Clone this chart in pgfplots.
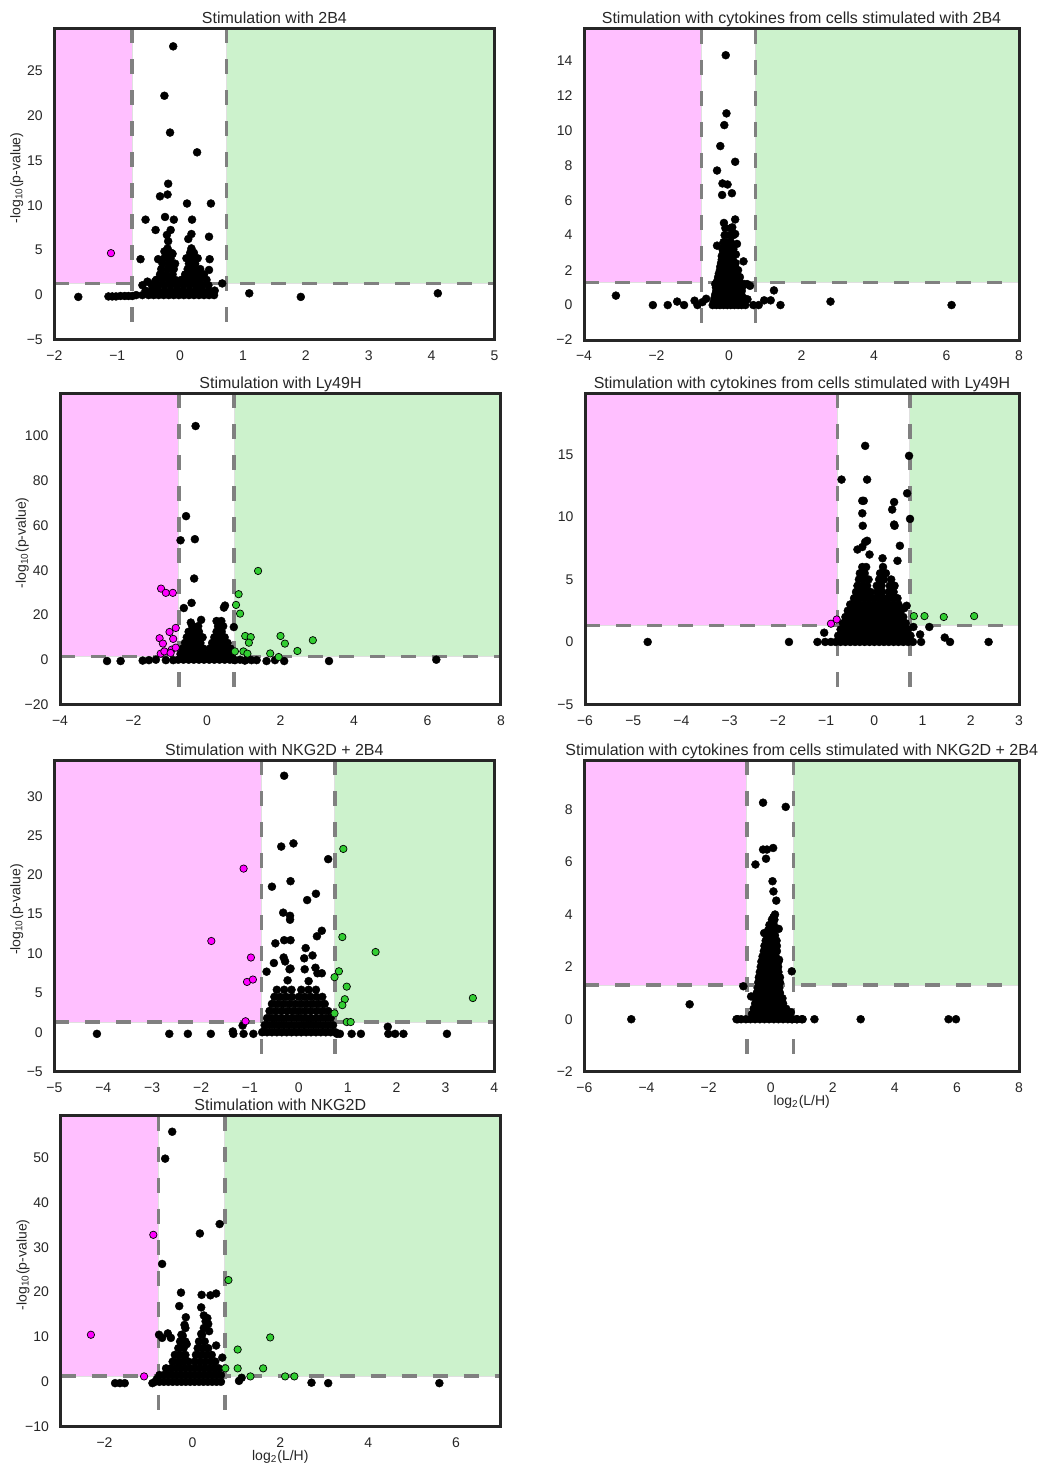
\documentclass[border=0pt]{standalone}
\usepackage{fontspec}
\setmainfont{Liberation Sans}
\usepackage{pgfplots}
\pgfplotsset{compat=1.18}
\definecolor{pinkfill}{RGB}{255,191,255}
\definecolor{greenfill}{RGB}{204,242,204}
\definecolor{limeg}{RGB}{50,205,50}
\definecolor{magc}{RGB}{255,0,255}
\definecolor{framec}{RGB}{38,38,38}
\definecolor{dashc}{RGB}{128,128,128}
\newcommand{\regions}[4]{%
  \fill[pinkfill, draw=black!12, line width=0.4pt] (axis cs:#1,1.3) rectangle (axis cs:-0.766,#4);
  \fill[greenfill, draw=black!12, line width=0.4pt] (axis cs:0.737,1.3) rectangle (axis cs:#2,#4);
  \draw[dashc, line width=1.7pt, dash pattern=on 7.5pt off 8pt] (axis cs:#1,1.3) -- (axis cs:#2,1.3);
  \draw[dashc, line width=1.7pt, dash pattern=on 7.5pt off 8pt] (axis cs:-0.766,#4) -- (axis cs:-0.766,#3);
  \draw[dashc, line width=1.7pt, dash pattern=on 7.5pt off 8pt] (axis cs:0.737,#4) -- (axis cs:0.737,#3);
}
\pgfplotsset{
  volc/.style={
    scale only axis, anchor=north west, axis on top,
    axis line style={draw=framec, line width=1.5pt},
    major tick length=0pt, tick style={draw=none},
    ticklabel style={font=\fontsize{7}{8}\selectfont, text=framec},
    xticklabel style={yshift=-2pt},
    yticklabel style={xshift=-2.3pt},
    title style={font=\fontsize{8}{9.6}\selectfont, text=framec, at={(0.5,1)}, anchor=base, yshift=-3.5pt},
    ylabel style={font=\fontsize{7}{8}\selectfont, text=framec, at={(axis description cs:-0.07,0.52)}, anchor=south, inner sep=0pt},
    xlabel style={font=\fontsize{7}{8}\selectfont, text=framec, at={(axis description cs:0.5,0)}, anchor=north, inner sep=0pt, yshift=-11.5pt},
    clip=true,
  },
  blk/.style={only marks, mark=*, mark size=2pt, mark options={draw=black, fill=black, line width=0.2pt}},
  mag/.style={only marks, mark=*, mark size=1.85pt, mark options={draw=black, fill=magc, line width=0.35pt}},
  grn/.style={only marks, mark=*, mark size=1.85pt, mark options={draw=black, fill=limeg, line width=0.35pt}},
}
\begin{document}
\begin{tikzpicture}
\useasboundingbox (0,0) rectangle (524.5pt,-732.5pt);

% ---------- Panel 1 ----------
\begin{axis}[volc, at={(27.2pt,-14.2pt)}, width=220pt, height=155.8pt,
  xmin=-2, xmax=5, ymin=-5, ymax=29.7,
  xtick={-2,-1,0,1,2,3,4,5}, xticklabels={−2,−1,0,1,2,3,4,5},
  ytick={-5,0,5,10,15,20,25}, yticklabels={−5,0,5,10,15,20,25},
  title={Stimulation with 2B4}, ylabel={-log\textsubscript{10}(p-value)}]
\regions{-2}{5}{-5}{29.7}
\addplot[blk] coordinates {
(-0.11,27.7)(-0.25,22.2)(-0.16,18.1)(0.27,15.9)(-0.19,12.4)(-0.32,11.0)(-0.20,11.2)(0.11,10.2)(0.49,10.2)
(-0.55,8.4)(-0.24,8.7)(-0.10,8.4)(0.19,8.4)(-0.39,7.25)(-0.15,7.25)(-0.21,6.7)(-0.19,6.0)(0.18,6.8)(0.13,6.25)(0.46,6.5)
(-0.63,4.0)(0.47,4.0)(0.46,2.8)(-0.35,4.0)(-0.25,4.86)(-0.12,4.6)(0.18,5.0)(-0.60,1.1)(-0.52,1.5)(-0.40,1.5)(0.67,1.3)
(-1.62,-0.2)(-1.14,-0.15)(-1.08,-0.15)(-1.02,-0.15)(-0.95,-0.1)(-0.88,-0.1)(-0.82,-0.1)(-0.76,-0.1)(1.10,0.2)(1.92,-0.2)(4.10,0.2)
(-0.70,0)(-0.60,0)(-0.50,0)(-0.42,0)(-0.34,0)(-0.26,0)(-0.18,0)(-0.10,0)(-0.02,0)(0.06,0)(0.14,0)(0.22,0)(0.30,0)(0.38,0)(0.46,0)(0.54,0)
(-0.55,0.5)(-0.45,0.5)(-0.35,0.5)(-0.25,0.5)(-0.15,0.5)(-0.05,0.5)(0.05,0.5)(0.15,0.5)(0.25,0.5)(0.35,0.5)(0.45,0.5)(0.55,0.5)
(-0.45,1.1)(-0.35,1.1)(-0.25,1.1)(-0.15,1.1)(-0.05,1.1)(0.05,1.1)(0.15,1.1)(0.25,1.1)(0.35,1.1)(0.45,1.1)
(-0.38,1.7)(-0.28,1.7)(-0.18,1.7)(-0.08,1.7)(0.02,1.7)(0.12,1.7)(0.22,1.7)(0.32,1.7)(0.42,1.7)
(-0.32,2.3)(-0.22,2.3)(-0.12,2.3)(0.08,2.3)(0.18,2.3)(0.28,2.3)(0.38,2.3)
(-0.30,2.9)(-0.20,2.9)(-0.10,2.9)(0.12,2.9)(0.22,2.9)(0.32,2.9)
(-0.28,3.5)(-0.18,3.5)(-0.08,3.5)(0.14,3.5)(0.24,3.5)
(-0.25,4.1)(-0.15,4.1)(0.10,4.1)(0.20,4.1)(0.28,4.1)
(-0.22,4.7)(-0.14,4.7)(0.16,4.7)(0.22,4.7)
(-0.20,5.2)(0.18,5.2)
};
\addplot[mag] coordinates {(-1.10,4.67)};
\end{axis}

% ---------- Panel 2 ----------
\begin{axis}[volc, at={(292pt,-14.5pt)}, width=217.5pt, height=155.5pt,
  xmin=-4, xmax=8, ymin=-2, ymax=15.8,
  xtick={-4,-2,0,2,4,6,8}, xticklabels={−4,−2,0,2,4,6,8},
  ytick={-2,0,2,4,6,8,10,12,14}, yticklabels={−2,0,2,4,6,8,10,12,14},
  title={Stimulation with cytokines from cells stimulated with 2B4}]
\regions{-4}{8}{-2}{15.8}
\addplot[blk] coordinates {
(-0.09,14.3)(-0.07,10.97)(-0.13,10.3)(-0.24,9.1)(0.17,8.2)(-0.33,7.7)(-0.18,6.96)(-0.04,6.9)(-0.19,6.3)(0.08,6.4)
(0.17,4.9)(-0.14,4.7)(0.09,4.45)(0.17,4.07)(0.22,3.5)(-0.33,3.4)(0.19,2.9)(0.40,2.5)(1.24,0.84)
(-3.12,0.54)(-2.10,0)(-1.69,0)(-1.43,0.2)(-1.24,0)(-0.95,0.25)(-0.87,0)(-0.73,0.17)(-0.63,0.36)(2.80,0.2)(6.14,0)
(0.51,0.33)(0.67,0)(0.82,0)(0.97,0.27)(1.15,0.27)(1.42,0)(0.58,1.1)
(-0.45,0)(-0.35,0)(-0.25,0)(-0.15,0)(-0.05,0)(0.05,0)(0.15,0)(0.25,0)(0.35,0)(0.45,0)
(-0.42,0.2)(-0.30,0.2)(-0.18,0.2)(-0.06,0.2)(0.06,0.2)(0.18,0.2)(0.30,0.2)(0.42,0.2)
(-0.40,0.4)(-0.30,0.4)(-0.20,0.4)(-0.10,0.4)(0.0,0.4)(0.10,0.4)(0.20,0.4)(0.30,0.4)(0.40,0.4)
(-0.38,0.6)(-0.26,0.6)(-0.14,0.6)(-0.02,0.6)(0.10,0.6)(0.22,0.6)(0.34,0.6)
(-0.35,0.8)(-0.25,0.8)(-0.15,0.8)(-0.05,0.8)(0.05,0.8)(0.15,0.8)(0.25,0.8)(0.35,0.8)
(-0.36,1.0)(-0.24,1.0)(-0.12,1.0)(0.0,1.0)(0.12,1.0)(0.24,1.0)(0.36,1.0)
(-0.38,1.2)(-0.28,1.2)(-0.18,1.2)(-0.08,1.2)(0.02,1.2)(0.12,1.2)(0.22,1.2)(0.32,1.2)(0.42,1.2)(0.50,1.2)
(-0.32,1.4)(-0.22,1.4)(-0.12,1.4)(-0.02,1.4)(0.08,1.4)(0.18,1.4)(0.28,1.4)
(-0.30,1.6)(-0.20,1.6)(-0.10,1.6)(0.0,1.6)(0.10,1.6)(0.20,1.6)(0.30,1.6)
(-0.28,1.8)(-0.18,1.8)(-0.08,1.8)(0.02,1.8)(0.12,1.8)(0.22,1.8)
(-0.25,2.0)(-0.15,2.0)(-0.05,2.0)(0.05,2.0)(0.15,2.0)(0.25,2.0)
(-0.24,2.2)(-0.14,2.2)(-0.04,2.2)(0.06,2.2)(0.16,2.2)
(-0.22,2.4)(-0.12,2.4)(-0.02,2.4)(0.08,2.4)(0.18,2.4)
(-0.20,2.6)(-0.10,2.6)(0.0,2.6)(0.10,2.6)
(-0.20,2.8)(-0.10,2.8)(0.0,2.8)(0.10,2.8)
(-0.16,3.0)(-0.06,3.0)(0.04,3.0)
(-0.18,3.2)(-0.08,3.2)(0.02,3.2)(0.12,3.2)
(-0.12,3.4)(0.0,3.4)(0.10,3.4)
(-0.15,3.6)(-0.05,3.6)(0.05,3.6)
(-0.12,4.0)(0.02,4.0)(0.12,4.0)
(-0.10,4.4)(0.05,4.4)
};
\end{axis}

% ---------- Panel 3 ----------
\begin{axis}[volc, at={(30pt,-196.7pt)}, width=220.5pt, height=155.5pt,
  xmin=-4, xmax=8, ymin=-20, ymax=119.1,
  xtick={-4,-2,0,2,4,6,8}, xticklabels={−4,−2,0,2,4,6,8},
  ytick={-20,0,20,40,60,80,100}, yticklabels={−20,0,20,40,60,80,100},
  title={Stimulation with Ly49H}, ylabel={-log\textsubscript{10}(p-value)}]
\regions{-4}{8}{-20}{119.1}
\addplot[blk] coordinates {
(-0.31,104.5)(-0.57,64.2)(-0.72,53.4)(-0.33,53.9)(-0.35,36.3)(-0.42,25.4)(-0.63,23.1)(0.46,23.3)(0.49,24.2)
(-0.16,17.8)(-0.44,16.6)(0.26,17.3)(0.39,17.3)(0.73,14.6)
(-2.72,-0.6)(-2.35,-0.6)(-1.75,-0.4)(-1.58,-0.2)(-1.39,0)(-1.12,-0.2)(-0.92,-0.2)(3.32,-0.6)(6.24,0)
(1.35,-0.2)(1.62,-0.6)(1.85,-0.2)(2.10,-0.6)(0.76,-0.2)(1.03,-0.4)(1.21,-0.2)(0.90,0)(1.10,0.2)
(-0.78,0)(-0.64,0)(-0.50,0)(-0.36,0)(-0.22,0)(-0.08,0)(0.06,0)(0.20,0)(0.34,0)(0.48,0)(0.62,0)(0.72,0)
(-0.72,2.5)(-0.58,2.5)(-0.44,2.5)(-0.30,2.5)(-0.16,2.5)(-0.02,2.5)(0.12,2.5)(0.26,2.5)(0.40,2.5)(0.54,2.5)(0.68,2.5)
(-0.66,5)(-0.52,5)(-0.38,5)(-0.24,5)(-0.10,5)(0.08,5)(0.22,5)(0.36,5)(0.50,5)(0.64,5)
(-0.60,7.5)(-0.46,7.5)(-0.32,7.5)(-0.18,7.5)(0.14,7.5)(0.28,7.5)(0.42,7.5)(0.56,7.5)
(-0.55,10)(-0.40,10)(-0.26,10)(-0.12,10)(0.20,10)(0.34,10)(0.48,10)
(-0.50,12.5)(-0.36,12.5)(-0.22,12.5)(0.26,12.5)(0.40,12.5)
(-0.40,15)(-0.24,15)(0.30,15)(0.44,15)
};
\addplot[mag] coordinates {
(-1.25,31.8)(-1.12,29.9)(-0.93,29.9)(-0.85,14.2)(-1.02,12.4)(-1.29,9.6)(-0.92,9.3)(-1.20,7.2)
(-0.96,4.5)(-1.26,2.7)(-1.16,3.7)(-0.99,3.0)(-0.85,5.4)};
\addplot[grn] coordinates {
(1.39,39.7)(0.86,29.3)(0.79,24.5)(0.90,20.6)(1.04,10.6)(1.19,10.1)(1.14,7.6)(2.0,10.6)(2.12,7.2)
(2.88,8.7)(2.46,3.9)(1.72,2.8)(1.95,1.2)(0.99,3.7)(1.10,2.7)(0.76,3.7)};
\end{axis}

% ---------- Panel 4 ----------
\begin{axis}[volc, at={(292.5pt,-196.7pt)}, width=217pt, height=155.5pt,
  xmin=-6, xmax=3, ymin=-5, ymax=19.9,
  xtick={-6,-5,-4,-3,-2,-1,0,1,2,3}, xticklabels={−6,−5,−4,−3,−2,−1,0,1,2,3},
  ytick={-5,0,5,10,15}, yticklabels={−5,0,5,10,15},
  title={Stimulation with cytokines from cells stimulated with Ly49H}]
\regions{-6}{3}{-5}{19.9}
\addplot[blk] coordinates {
(-0.19,15.7)(0.72,14.9)(-0.68,13.0)(-0.15,13.0)(0.68,11.9)(-0.25,11.3)(-0.22,11.3)(0.41,11.2)(0.37,10.6)(0.74,9.85)
(-0.25,10.3)(-0.24,9.3)(0.41,9.4)(0.42,9.3)(-0.15,8.1)(-0.19,8.0)(-0.35,7.4)(-0.25,7.6)(-0.10,7.0)(0.53,7.7)(0.17,6.7)(0.48,6.5)
(0.67,2.9)(0.62,2.7)
(-4.70,0)(-1.77,0)(-1.18,0)(-1.04,0.74)(-1.02,0)(-0.90,0)(0.81,1.2)(0.95,0.6)(1.14,1.2)(1.46,0.35)(1.57,0)(2.37,0)(0.97,0)
(-0.80,0)(-0.70,0)(-0.60,0)(-0.50,0)(-0.40,0)(-0.30,0)(-0.20,0)(-0.10,0)(0.0,0)(0.10,0)(0.20,0)(0.30,0)(0.40,0)(0.50,0)(0.60,0)(0.70,0)(0.80,0)
(-0.75,0.5)(-0.65,0.5)(-0.55,0.5)(-0.45,0.5)(-0.35,0.5)(-0.25,0.5)(-0.15,0.5)(-0.05,0.5)(0.05,0.5)(0.15,0.5)(0.25,0.5)(0.35,0.5)(0.45,0.5)(0.55,0.5)(0.65,0.5)(0.75,0.5)
(-0.70,1.0)(-0.60,1.0)(-0.50,1.0)(-0.40,1.0)(-0.30,1.0)(-0.20,1.0)(-0.10,1.0)(0.0,1.0)(0.10,1.0)(0.20,1.0)(0.30,1.0)(0.40,1.0)(0.50,1.0)(0.60,1.0)(0.70,1.0)
(-0.65,1.5)(-0.55,1.5)(-0.45,1.5)(-0.35,1.5)(-0.25,1.5)(-0.15,1.5)(-0.05,1.5)(0.05,1.5)(0.15,1.5)(0.25,1.5)(0.35,1.5)(0.45,1.5)(0.55,1.5)(0.65,1.5)
(-0.60,2.0)(-0.50,2.0)(-0.40,2.0)(-0.30,2.0)(-0.20,2.0)(-0.10,2.0)(0.0,2.0)(0.10,2.0)(0.20,2.0)(0.30,2.0)(0.40,2.0)(0.50,2.0)(0.60,2.0)
(-0.55,2.5)(-0.45,2.5)(-0.35,2.5)(-0.25,2.5)(-0.15,2.5)(-0.05,2.5)(0.05,2.5)(0.15,2.5)(0.25,2.5)(0.35,2.5)(0.45,2.5)(0.55,2.5)
(-0.50,3.0)(-0.40,3.0)(-0.30,3.0)(-0.20,3.0)(-0.10,3.0)(0.0,3.0)(0.10,3.0)(0.20,3.0)(0.30,3.0)(0.40,3.0)(0.50,3.0)
(-0.42,3.5)(-0.32,3.5)(-0.22,3.5)(-0.12,3.5)(-0.02,3.5)(0.08,3.5)(0.18,3.5)(0.28,3.5)(0.38,3.5)(0.48,3.5)
(-0.38,4.0)(-0.28,4.0)(-0.18,4.0)(-0.08,4.0)(0.06,4.0)(0.16,4.0)(0.30,4.0)(0.40,4.0)
(-0.35,4.5)(-0.25,4.5)(-0.15,4.5)(0.05,4.5)(0.15,4.5)(0.32,4.5)(0.42,4.5)
(-0.32,5.0)(-0.22,5.0)(-0.12,5.0)(0.10,5.0)(0.20,5.0)(0.35,5.0)
(-0.30,5.5)(-0.20,5.5)(0.12,5.5)(0.24,5.5)
(-0.25,6.0)(-0.17,6.0)(0.18,6.0)
};
\addplot[mag] coordinates {(-0.90,1.46)(-0.78,1.8)};
\addplot[grn] coordinates {(0.82,2.07)(1.04,2.07)(1.44,2.0)(2.07,2.07)};
\end{axis}

% ---------- Panel 5 ----------
\begin{axis}[volc, at={(27.2pt,-380pt)}, width=220pt, height=155.8pt,
  xmin=-5, xmax=4, ymin=-5, ymax=34.6,
  xtick={-5,-4,-3,-2,-1,0,1,2,3,4}, xticklabels={−5,−4,−3,−2,−1,0,1,2,3,4},
  ytick={-5,0,5,10,15,20,25,30}, yticklabels={−5,0,5,10,15,20,25,30},
  title={Stimulation with NKG2D + 2B4}, ylabel={-log\textsubscript{10}(p-value)}]
\regions{-5}{4}{-5}{34.6}
\addplot[blk] coordinates {
(-0.30,32.6)(-0.11,24.0)(-0.36,23.6)(0.60,22.0)(-0.55,18.5)(-0.17,19.2)(0.35,17.6)(0.17,16.8)(-0.32,15.2)(-0.18,14.8)(-0.18,14.3)
(0.47,12.9)(0.37,12.2)(-0.48,11.3)(-0.30,11.7)(-0.17,11.7)(0.14,10.7)(0.28,9.76)(-0.31,9.5)(-0.28,9.0)(-0.51,8.8)
(0.11,9.4)(0.12,8.0)(0.34,8.2)(0.38,7.5)(-0.17,8.1)(-0.66,7.7)(-0.23,6.6)(0.47,7.5)(0.20,6.5)(-0.19,8.0)
(-4.13,-0.2)(-2.65,-0.2)(-2.27,-0.2)(-1.80,-0.2)(-1.35,0.1)(-1.34,-0.2)(-1.13,-0.2)(-0.93,-0.2)(-0.72,0.1)(-1.15,0.85)
(1.08,-0.2)(1.27,-0.2)(1.82,0.7)(1.83,-0.2)(1.97,-0.2)(2.14,-0.2)(3.03,-0.2)(0.78,-0.2)(0.84,-0.2)
(-0.75,0)(-0.65,0)(-0.55,0)(-0.45,0)(-0.35,0)(-0.25,0)(-0.15,0)(-0.05,0)(0.05,0)(0.15,0)(0.25,0)(0.35,0)(0.45,0)(0.55,0)(0.65,0)(0.75,0)
(-0.70,0.9)(-0.60,0.9)(-0.50,0.9)(-0.40,0.9)(-0.30,0.9)(-0.20,0.9)(-0.10,0.9)(0.0,0.9)(0.10,0.9)(0.20,0.9)(0.30,0.9)(0.40,0.9)(0.50,0.9)(0.60,0.9)(0.70,0.9)
(-0.65,1.8)(-0.55,1.8)(-0.45,1.8)(-0.35,1.8)(-0.25,1.8)(-0.15,1.8)(-0.05,1.8)(0.05,1.8)(0.15,1.8)(0.25,1.8)(0.35,1.8)(0.45,1.8)(0.55,1.8)(0.65,1.8)
(-0.60,2.7)(-0.48,2.7)(-0.36,2.7)(-0.24,2.7)(-0.12,2.7)(0.0,2.7)(0.12,2.7)(0.24,2.7)(0.36,2.7)(0.48,2.7)(0.60,2.7)
(-0.55,3.6)(-0.43,3.6)(-0.31,3.6)(-0.19,3.6)(-0.07,3.6)(0.05,3.6)(0.17,3.6)(0.29,3.6)(0.41,3.6)(0.53,3.6)
(-0.50,4.5)(-0.38,4.5)(-0.26,4.5)(-0.14,4.5)(0.0,4.5)(0.12,4.5)(0.24,4.5)(0.36,4.5)(0.48,4.5)
(-0.45,5.4)(-0.30,5.4)(-0.15,5.4)(0.05,5.4)(0.20,5.4)(0.35,5.4)
};
\addplot[mag] coordinates {(-1.13,20.8)(-1.79,11.6)(-0.98,9.5)(-1.06,6.4)(-0.94,6.7)(-1.09,1.4)};
\addplot[grn] coordinates {(0.91,23.3)(0.89,12.1)(1.57,10.2)(0.82,7.75)(0.73,7.0)(0.98,5.8)(0.94,4.2)(0.89,3.45)(0.73,2.4)(0.98,1.3)(1.06,1.3)(3.56,4.35)};
\end{axis}

% ---------- Panel 6 ----------
\begin{axis}[volc, at={(292.2pt,-380pt)}, width=217.3pt, height=155.8pt,
  xmin=-6, xmax=8, ymin=-2, ymax=9.9,
  xtick={-6,-4,-2,0,2,4,6,8}, xticklabels={−6,−4,−2,0,2,4,6,8},
  ytick={-2,0,2,4,6,8}, yticklabels={−2,0,2,4,6,8},
  title={Stimulation with cytokines from cells stimulated with NKG2D + 2B4}, xlabel={log\textsubscript{2}(L/H)}]
\regions{-6}{8}{-2}{9.9}
\addplot[blk] coordinates {
(-0.245,8.27)(0.485,8.11)(-0.245,6.48)(-0.12,6.48)(0.08,6.54)(-0.15,6.13)(-0.49,5.91)(0.06,5.27)(0.09,4.88)(0.18,4.53)
(0.14,4.0)(0.09,3.9)(0.26,3.45)(-0.21,3.29)(-0.13,3.26)(0.19,3.0)(0.68,1.83)(0.27,2.27)(-0.88,1.26)(-0.63,0.87)
(-2.61,0.57)(-4.49,0)(-1.06,0)(0.68,0)(0.84,0)(1.03,0)(1.41,0)(2.90,0)(5.73,0)(5.97,0)(0.65,0.27)
(-1.1,0)(-0.95,0)(-0.8,0)(-0.65,0)(-0.5,0)(-0.35,0)(-0.2,0)(-0.05,0)(0.1,0)(0.25,0)(0.4,0)(0.55,0)(0.7,0)(0.85,0)(1.0,0)
(-0.6,0.2)(-0.45,0.2)(-0.3,0.2)(-0.15,0.2)(0.0,0.2)(0.15,0.2)(0.3,0.2)(0.45,0.2)(0.6,0.2)
(-0.55,0.4)(-0.4,0.4)(-0.25,0.4)(-0.1,0.4)(0.05,0.4)(0.2,0.4)(0.35,0.4)(0.5,0.4)
(-0.5,0.6)(-0.35,0.6)(-0.2,0.6)(-0.05,0.6)(0.1,0.6)(0.25,0.6)(0.4,0.6)
(-0.48,0.8)(-0.33,0.8)(-0.18,0.8)(-0.03,0.8)(0.12,0.8)(0.27,0.8)(0.38,0.8)
(-0.45,1.0)(-0.3,1.0)(-0.15,1.0)(0.0,1.0)(0.15,1.0)(0.3,1.0)
(-0.42,1.2)(-0.28,1.2)(-0.14,1.2)(0.0,1.2)(0.14,1.2)(0.28,1.2)
(-0.4,1.4)(-0.26,1.4)(-0.12,1.4)(0.02,1.4)(0.16,1.4)(0.3,1.4)
(-0.38,1.6)(-0.24,1.6)(-0.1,1.6)(0.04,1.6)(0.18,1.6)(0.3,1.6)
(-0.35,1.8)(-0.2,1.8)(-0.05,1.8)(0.1,1.8)(0.25,1.8)
(-0.32,2.0)(-0.18,2.0)(-0.04,2.0)(0.1,2.0)(0.24,2.0)
(-0.3,2.2)(-0.15,2.2)(0.0,2.2)(0.15,2.2)(0.25,2.2)
(-0.26,2.4)(-0.12,2.4)(0.02,2.4)(0.16,2.4)
(-0.22,2.6)(-0.08,2.6)(0.06,2.6)(0.2,2.6)
(-0.2,2.8)(-0.05,2.8)(0.1,2.8)(0.2,2.8)
(-0.16,3.0)(-0.02,3.0)(0.1,3.0)
(-0.12,3.2)(0.02,3.2)(0.14,3.2)
(-0.08,3.4)(0.06,3.4)
(-0.04,3.6)(0.1,3.6)
(0.04,3.8)(0.12,3.8)
};
\end{axis}

% ---------- Panel 7 ----------
\begin{axis}[volc, at={(30.3pt,-557.8pt)}, width=219.7pt, height=155.5pt,
  xmin=-3, xmax=7, ymin=-10, ymax=59.4,
  xtick={-2,0,2,4,6}, xticklabels={−2,0,2,4,6},
  ytick={-10,0,10,20,30,40,50}, yticklabels={−10,0,10,20,30,40,50},
  title={Stimulation with NKG2D}, ylabel={-log\textsubscript{10}(p-value)}, xlabel={log\textsubscript{2}(L/H)}]
\regions{-3}{7}{-10}{59.4}
\addplot[blk] coordinates {
(-0.46,55.8)(-0.62,49.8)(0.62,35.2)(0.17,33.1)(-0.69,26.3)(-0.26,19.9)(-0.30,16.9)(0.21,19.4)(0.41,19.3)(0.54,19.7)
(-0.15,14.4)(-0.18,12.7)(0.20,16.6)(0.26,14.8)(0.34,14.2)(0.36,12.9)(-0.76,10.5)(-0.69,9.8)(-0.56,10.8)(-0.49,9.8)
(0.20,10.7)(0.38,11.3)(0.54,8.1)(0.68,5.4)(-0.22,10.3)(-0.13,8.4)
(-1.76,-0.3)(-1.65,-0.3)(-1.54,-0.3)(-0.91,-0.3)(-0.81,0.6)(1.06,0.2)(1.12,0.9)(2.71,-0.2)(3.09,-0.3)(5.62,-0.3)
(-0.85,0)(-0.75,0)(-0.65,0)(-0.55,0)(-0.45,0)(-0.35,0)(-0.25,0)(-0.15,0)(-0.05,0)(0.05,0)(0.15,0)(0.25,0)(0.35,0)(0.45,0)(0.55,0)(0.65,0)
(-0.75,1.5)(-0.65,1.5)(-0.55,1.5)(-0.45,1.5)(-0.35,1.5)(-0.25,1.5)(-0.15,1.5)(-0.05,1.5)(0.05,1.5)(0.15,1.5)(0.25,1.5)(0.35,1.5)(0.45,1.5)(0.55,1.5)(0.65,1.5)
(-0.60,3)(-0.49,3)(-0.38,3)(-0.27,3)(-0.16,3)(-0.05,3)(0.06,3)(0.17,3)(0.28,3)(0.39,3)(0.50,3)(0.60,3)
(-0.45,4.5)(-0.33,4.5)(-0.21,4.5)(-0.09,4.5)(0.05,4.5)(0.17,4.5)(0.29,4.5)(0.41,4.5)(0.52,4.5)
(-0.40,6)(-0.28,6)(-0.16,6)(0.08,6)(0.20,6)(0.32,6)(0.44,6)
(-0.32,7.5)(-0.20,7.5)(0.12,7.5)(0.24,7.5)(0.36,7.5)
(-0.28,9)(-0.16,9)(0.15,9)(0.28,9)
(-0.25,10.5)(0.22,10.5)
(-0.16,12)(0.26,12)
(0.30,13.5)
};
\addplot[mag] coordinates {(-0.89,32.8)(-2.31,10.5)(-1.10,1.2)};
\addplot[grn] coordinates {(0.82,22.7)(1.77,9.9)(1.03,7.2)(1.03,3.0)(0.75,3.0)(1.61,3.0)(1.32,1.2)(2.11,1.2)(2.32,1.2)};
\end{axis}
\end{tikzpicture}
\end{document}
